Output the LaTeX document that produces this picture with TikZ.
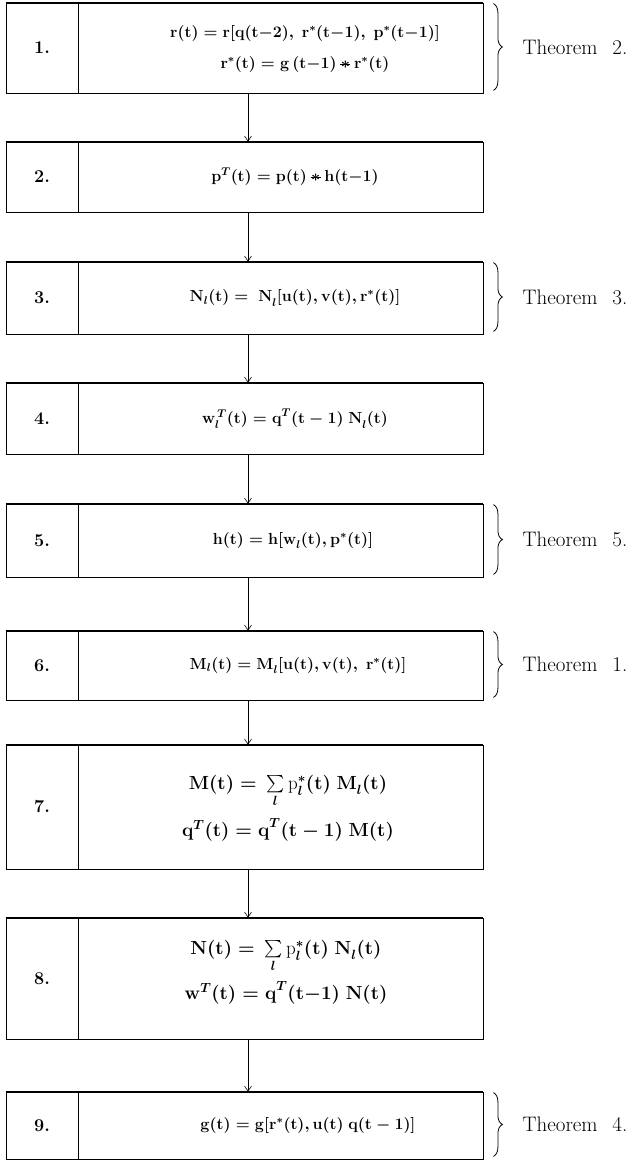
\RequirePackage{fix-cm}
\documentclass[tikz,border=0pt]{standalone}
\usepackage{amsmath}
\usetikzlibrary{arrows.meta,decorations.pathreplacing}
\newcommand{\conv}{\mathbin{\ooalign{$\ast$\cr\hidewidth\raisebox{0.21em}{\rule{0.62em}{0.08em}}\hidewidth\cr}}}
\newcommand{\pl}{\textnormal{p}}
\tikzset{
  box/.style={draw, line width=0.8pt, minimum width=477pt, inner sep=0pt},
  edge/.style={line width=1.6pt},
  divider/.style={line width=0.8pt},
  lab/.style={font=\fontsize{18}{20}\selectfont\bfseries},
  eq/.style={font=\fontsize{16}{21}\selectfont\boldmath, align=center},
  eqbig/.style={font=\fontsize{19}{24}\selectfont\boldmath, align=center},
  thm/.style={font=\fontsize{21}{25}\selectfont, anchor=west, inner sep=0pt},
  brc/.style={decorate, decoration={brace, amplitude=9pt}, line width=0.8pt},
  arr/.style={line width=0.6pt, -{Straight Barb[length=5pt,width=7pt]}}
}
\begin{document}
\begin{tikzpicture}[x=1pt,y=-1pt]
\useasboundingbox (0,0) rectangle (633,1161);
% boxes
\node[box, minimum height=90pt]  (b1) at (244.5,48) {};
\node[box, minimum height=70pt]  (b2) at (244.5,177) {};
\node[box, minimum height=72pt]  (b3) at (244.5,298) {};
\node[box, minimum height=71pt]  (b4) at (244.5,418.5) {};
\node[box, minimum height=73pt]  (b5) at (244.5,540.5) {};
\node[box, minimum height=69pt]  (b6) at (244.5,665.5) {};
\node[box, minimum height=124pt] (b7) at (244.5,807) {};
\node[box, minimum height=121pt] (b8) at (244.5,978.5) {};
\node[box, minimum height=67pt]  (b9) at (244.5,1125.5) {};
\foreach \b in {b1,b2,b3,b4,b5,b6,b7,b8,b9}{
  \draw[edge] (\b.north west) -- (\b.north east);
  \draw[edge] (\b.south west) -- (\b.south east);
  \draw[divider] ([xshift=73pt]\b.north west) -- ([xshift=73pt]\b.south west);
}
% labels
\node[lab] (n1) at ([xshift=36.5pt]b1.west) {1.};
\node[lab] (n2) at ([xshift=36.5pt]b2.west) {2.};
\node[lab] (n3) at ([xshift=36.5pt]b3.west) {3.};
\node[lab] (n4) at ([xshift=36.5pt]b4.west) {4.};
\node[lab] (n5) at ([xshift=36.5pt]b5.west) {5.};
\node[lab] (n6) at ([xshift=36.5pt]b6.west) {6.};
\node[lab] (n7) at ([xshift=36.5pt]b7.west) {7.};
\node[lab] (n8) at ([xshift=36.5pt]b8.west) {8.};
\node[lab] (n9) at ([xshift=36.5pt]b9.west) {9.};
% formulas
\node[eq] (f1) at (305,49) {$\mathbf{r(t) = r[q(t{-}2),\ r^*(t{-}1),\ p^*(t{-}1)]}$\\[10pt]
  $\mathbf{r^*(t) = g\,(t{-}1)} \conv \mathbf{r^*(t)}$};
\node[eq] (f2) at (295,177) {$\mathbf{p}^T\mathbf{(t) = p(t)} \conv \mathbf{h(t{-}1)}$};
\node[eq] (f3) at (295,298) {$\mathbf{N}_l\mathbf{(t) =\ N}_l\mathbf{[u(t), v(t), r^*(t)]}$};
\node[eq] (f4) at (295,418.5) {$\mathbf{w}_l^{\,T}\mathbf{(t) = q}^T\mathbf{(t - 1)\ N}_l\mathbf{(t)}$};
\node[eq] (f5) at (293,540.5) {$\mathbf{h(t) = h[w}_l\mathbf{(t), p^*(t)]}$};
\node[eq] (f6) at (298,665.5) {$\mathbf{M}_l\mathbf{(t) = M}_l\mathbf{[u(t), v(t),\ r^*(t)]}$};
\node[eqbig] (f7) at (288,808) {$\mathbf{M(t) =}\ \sum\limits_l \pl_l^*\mathbf{(t)\ M}_l\mathbf{(t)}$\\[10pt]
  $\mathbf{q}^T\mathbf{(t) = q}^T\mathbf{(t - 1)\ M(t)}$};
\node[eqbig] (f8) at (286,972) {$\mathbf{N(t) =}\ \sum\limits_l \pl_l^*\mathbf{(t)\ N}_l\mathbf{(t)}$\\[8pt]
  $\mathbf{w}^T\mathbf{(t) = q}^T\mathbf{(t{-}1)\ N(t)}$};
\node[eq] (f9) at (308,1125.5) {$\mathbf{g(t) = g[r^*(t), u(t)\ q(t - 1)]}$};
% arrows
\draw[arr] ([xshift=3.5pt]b1.south) -- ([xshift=3.5pt]b2.north);
\draw[arr] ([xshift=3.5pt]b2.south) -- ([xshift=3.5pt]b3.north);
\draw[arr] ([xshift=3.5pt]b3.south) -- ([xshift=3.5pt]b4.north);
\draw[arr] ([xshift=3.5pt]b4.south) -- ([xshift=3.5pt]b5.north);
\draw[arr] ([xshift=3.5pt]b5.south) -- ([xshift=3.5pt]b6.north);
\draw[arr] ([xshift=3.5pt]b6.south) -- ([xshift=3.5pt]b7.north);
\draw[arr] ([xshift=3.5pt]b7.south) -- ([xshift=3.5pt]b8.north);
\draw[arr] ([xshift=3.5pt]b8.south) -- ([xshift=3.5pt]b9.north);
% braces and theorem labels
\foreach \b/\t in {b1/2, b3/3, b5/5, b6/1, b9/4}{
  \draw[brc] ([xshift=10pt,yshift=-1pt]\b.north east) -- ([xshift=10pt,yshift=3pt]\b.south east);
  \node[thm] (t\b) at ([xshift=39pt,yshift=1pt]\b.east) {Theorem\hspace{0.7em}\t.};
}
\end{tikzpicture}
\end{document}
